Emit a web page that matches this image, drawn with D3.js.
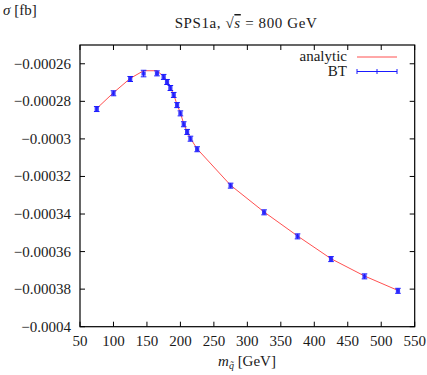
<!DOCTYPE html>
<html><head><meta charset="utf-8">
<script src="https://cdn.jsdelivr.net/npm/d3@7"></script>
<style>
body{margin:0;background:#fff;}
text{font-family:"Liberation Serif",serif;}
</style>
</head><body>
<svg id="c" width="427" height="375"></svg>
<script>
const massBT = [75,100,125,145,165,175,180,185,190,195,200,205,210,215,225,275,325,375,425,475,525];
const sigmaBT = [-0.0002841,-0.0002757,-0.0002681,-0.0002652,-0.0002651,-0.000267,-0.0002697,-0.0002729,-0.0002766,-0.000282,-0.0002864,-0.0002922,-0.0002963,-0.0002999,-0.0003055,-0.0003249,-0.0003391,-0.0003519,-0.000364,-0.0003732,-0.0003809];
const errBT = [0.0000008,0.0000008,0.0000008,0.0000012,0.0000008,0.0000008,0.0000008,0.0000008,0.0000008,0.0000008,0.0000008,0.0000008,0.0000008,0.0000008,0.0000008,0.0000008,0.0000008,0.0000008,0.0000008,0.0000008,0.0000008];
const massAn = [75,100,125,145,165,175,180,185,190,195,200,205,210,215,225,275,325,375,425,475,525];
const sigmaAn = [-0.0002838,-0.0002754,-0.0002678,-0.0002637,-0.0002637,-0.0002668,-0.0002695,-0.0002727,-0.0002764,-0.0002818,-0.0002862,-0.000292,-0.0002961,-0.0002997,-0.0003053,-0.0003247,-0.0003389,-0.0003517,-0.0003638,-0.000373,-0.0003807];
const xTicks = [50,100,150,200,250,300,350,400,450,500,550];
const yTicks = [-0.00026,-0.00028,-0.0003,-0.00032,-0.00034,-0.00036,-0.00038,-0.0004];
const yTickLabels = ["\u22120.00026","\u22120.00028","\u22120.0003","\u22120.00032","\u22120.00034","\u22120.00036","\u22120.00038","\u22120.0004"];

const svg = d3.select("#c");
const FF = "'Liberation Serif', serif";
const L=80,R=414.7,T=45,B=326.7;
const x = d3.scaleLinear().domain([50,550]).range([L,R]);
const y = d3.scaleLinear().domain([-0.0004,-0.00025]).range([B,T]);
const fs = 15;
const ink = "#1a1a1a";
function txt(sel){ return sel.append("text").style("font-family",FF).attr("font-size",fs).attr("fill",ink); }

const tl = 5;
const g = svg.append("g");
xTicks.forEach(t=>{
  g.append("line").attr("x1",x(t)).attr("x2",x(t)).attr("y1",B).attr("y2",B-tl).attr("stroke","#000").attr("stroke-width",1);
  g.append("line").attr("x1",x(t)).attr("x2",x(t)).attr("y1",T).attr("y2",T+tl).attr("stroke","#000").attr("stroke-width",1);
  txt(g).attr("x",x(t)).attr("y",B+19).attr("text-anchor","middle").text(t);
});
yTicks.forEach((t,i)=>{
  g.append("line").attr("x1",L).attr("x2",L+tl).attr("y1",y(t)).attr("y2",y(t)).attr("stroke","#000").attr("stroke-width",1);
  g.append("line").attr("x1",R).attr("x2",R-tl).attr("y1",y(t)).attr("y2",y(t)).attr("stroke","#000").attr("stroke-width",1);
  txt(g).attr("x",L-9).attr("y",y(t)+5).attr("text-anchor","end").text(yTickLabels[i]);
});

// analytic line
const line = d3.line().x((d,i)=>x(massAn[i])).y((d,i)=>y(sigmaAn[i]));
svg.append("path").datum(sigmaAn).attr("d",line).attr("fill","none").attr("stroke","#ff5050").attr("stroke-width",1);

// BT points
const blue = "#1a1aff";
const pts = svg.append("g");
massBT.forEach((m,i)=>{
  const cx=x(m), cy=y(sigmaBT[i]);
  const y1=y(sigmaBT[i]+errBT[i]), y2=y(sigmaBT[i]-errBT[i]);
  pts.append("rect").attr("x",cx-2.1).attr("y",cy-2.1).attr("width",4.2).attr("height",4.2).attr("fill",blue).attr("opacity",0.85);
  pts.append("line").attr("x1",cx).attr("x2",cx).attr("y1",y1-1).attr("y2",y2+1).attr("stroke",blue).attr("stroke-width",1);
  pts.append("line").attr("x1",cx-2.8).attr("x2",cx+2.8).attr("y1",y1-1).attr("y2",y1-1).attr("stroke",blue).attr("stroke-width",1);
  pts.append("line").attr("x1",cx-2.8).attr("x2",cx+2.8).attr("y1",y2+1).attr("y2",y2+1).attr("stroke",blue).attr("stroke-width",1);
});

// frame
svg.append("rect").attr("x",L).attr("y",T).attr("width",R-L).attr("height",B-T).attr("fill","none").attr("stroke","#000").attr("stroke-width",1.2);

// legend
const lx1=357, lx2=397;
txt(svg).attr("x",347).attr("y",61).attr("text-anchor","end").text("analytic");
svg.append("line").attr("x1",lx1).attr("x2",lx2).attr("y1",57).attr("y2",57).attr("stroke","#ff5050").attr("stroke-width",1);
txt(svg).attr("x",347).attr("y",76).attr("text-anchor","end").text("BT");
svg.append("line").attr("x1",lx1).attr("x2",lx2).attr("y1",71.5).attr("y2",71.5).attr("stroke",blue).attr("stroke-width",1);
[lx1,(lx1+lx2)/2,lx2].forEach(xx=>{
  svg.append("line").attr("x1",xx).attr("x2",xx).attr("y1",69).attr("y2",74).attr("stroke",blue).attr("stroke-width",1);
});

// title
const title = txt(svg).attr("x",246).attr("y",28).attr("text-anchor","middle").attr("letter-spacing",0.6);
title.append("tspan").text("SPS1a, \u221A");
title.append("tspan").attr("font-style","italic").attr("text-decoration","overline").text("s");
title.append("tspan").text(" = 800 GeV");

// y label
const yl = txt(svg).attr("x",3).attr("y",15);
yl.append("tspan").attr("font-style","italic").text("\u03C3");
yl.append("tspan").text(" [fb]");

// x label
const xl = txt(svg).attr("x",247).attr("y",366).attr("text-anchor","middle");
xl.append("tspan").attr("font-style","italic").text("m");
xl.append("tspan").attr("font-style","italic").attr("font-size",10).attr("dy",3).text("q\u0303");
xl.append("tspan").attr("dy",-3).text(" [GeV]");
</script>
</body></html>
